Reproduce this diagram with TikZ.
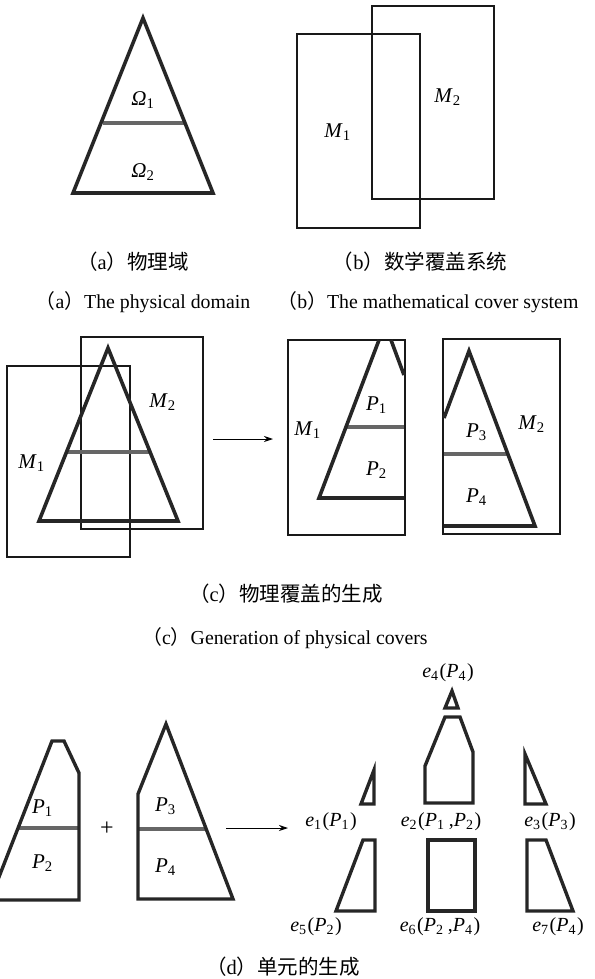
\documentclass[tikz,border=0pt]{standalone}
\usepackage{fontspec}
\setmainfont{Liberation Serif}
\newfontfamily\cjk{Noto Sans CJK SC}
\usetikzlibrary{arrows.meta}
\newcommand{\lbl}[2]{\textit{#1}\textsubscript{#2}\kern1pt}
\newcommand{\zlp}{{\cjk （}}
\newcommand{\zrp}{{\cjk ）}}

\begin{document}
\begin{tikzpicture}[x=1pt,y=-1pt,
  font=\fontsize{21}{24}\selectfont,
  tri/.style={draw=black!85,line width=3.6pt,line join=miter},
  cut/.style={draw=black!60,line width=3.4pt},
  cover/.style={draw=black!90,line width=2.2pt},
  elem/.style={draw=black!85,line width=3.4pt,line join=miter},
  arr/.style={-{Stealth[length=9pt,width=6pt]},line width=0.9pt},
  zh/.style={font=\fontsize{20.5}{24}\selectfont},
  en/.style={font=\fontsize{19.8}{24}\selectfont},
  lab/.style={inner sep=0pt},
  elab/.style={inner sep=0pt,font=\fontsize{20}{24}\selectfont}]
\clip (0,0) rectangle (594,979);

% (a) physical domain
\draw[cut] (103,123) -- (184,123);
\draw[tri] (143,18) -- (73,193) -- (213,193) -- cycle;
\node[lab] (om1) at (143,100) {\textit{Ω}\textsubscript{1}};
\node[lab] (om2) at (143,172) {\textit{Ω}\textsubscript{2}};

% (b) mathematical covers
\draw[cover] (297,34) rectangle (420,228);
\draw[cover] (372,6) rectangle (494,199);
\node[lab] (bm1) at (338,132) {\lbl{M}{1}};
\node[lab] (bm2) at (448,97) {\lbl{M}{2}};

\node[zh] (capa) at (133,262) {\zlp a\zrp{\cjk 物理域}};
\node[zh] (capb) at (420,262) {\zlp b\zrp{\cjk 数学覆盖系统}};
\node[en] (capaen) at (143,302) {\zlp a\zrp The physical domain};
\node[en] (capben) at (428,302) {\zlp b\zrp The mathematical cover system};

% (c) physical covers
\draw[cover] (7,366) rectangle (130,557);
\draw[cover] (81,337) rectangle (203,529);
\draw[cut] (68,452) -- (149,452);
\draw[tri] (108,348) -- (39,521) -- (178,521) -- cycle;
\node[lab] (cm1) at (32,463) {\lbl{M}{1}};
\node[lab] (cm2) at (163,402) {\lbl{M}{2}};
\coordinate (cfrom) at (213,439);
\coordinate (cto) at (273,439);
\draw[arr] (cfrom) -- (cto);

\draw[cover] (288,340) rectangle (405,535);
\draw[cut] (347,427) -- (404,427);
\draw[tri] (379,340) -- (319,498) -- (404,498);
\draw[tri] (391,340) -- (404,375);
\node[lab] (rm1) at (308,430) {\lbl{M}{1}};
\node[lab] (p1) at (377,405) {\lbl{P}{1}};
\node[lab] (p2) at (377,470) {\lbl{P}{2}};

\draw[cover] (443,339) rectangle (560,534);
\draw[cut] (444,454) -- (508,454);
\draw[tri] (444,418) -- (469,351) -- (535,526) -- (444,526);
\node[lab] (rm2) at (532,424) {\lbl{M}{2}};
\node[lab] (p3) at (477,432) {\lbl{P}{3}};
\node[lab] (p4) at (477,497) {\lbl{P}{4}};

\node[zh] (capc) at (286,594) {\zlp c\zrp{\cjk 物理覆盖的生成}};
\node[en] (capcen) at (285,638) {\zlp c\zrp Generation of physical covers};

% (d) elements
\draw[cut] (18,828) -- (79,828);
\draw[elem] (-10,900) -- (52,741) -- (64,741) -- (79,773) -- (79,900) -- cycle;
\node[lab] (dp1) at (43,808) {\lbl{P}{1}};
\node[lab] (dp2) at (43,863) {\lbl{P}{2}};
\node[lab,font=\fontsize{24}{24}\selectfont] (plus) at (107,829) {+};
\draw[cut] (138,829) -- (206,829);
\draw[elem] (166,724) -- (138,794) -- (138,899) -- (233,899) -- cycle;
\node[lab] (dp3) at (166,806) {\lbl{P}{3}};
\node[lab] (dp4) at (166,867) {\lbl{P}{4}};
\coordinate (dfrom) at (226,828);
\coordinate (dto) at (288,828);
\draw[arr] (dfrom) -- (dto);

\draw[elem] (452,691) -- (445,708) -- (458,708) -- cycle;
\draw[elem] (445,717) -- (460,717) -- (473,752) -- (473,803) -- (425,803) -- (425,766) -- cycle;
\draw[elem] (374,770) -- (374,804) -- (361,804) -- cycle;
\draw[elem] (525,754) -- (525,804) -- (546,804) -- cycle;
\draw[elem] (363,840) -- (375,840) -- (375,911) -- (336,911) -- cycle;
\draw[elem] (428,840) rectangle (475,911);
\draw[elem] (527,840) -- (546,840) -- (573,911) -- (527,911) -- cycle;
\node[elab] (e4) at (448,673) {\lbl{e}{4}(\lbl{P}{4})};
\node[elab] (e1) at (331,822) {\lbl{e}{1}(\lbl{P}{1})};
\node[elab] (e2) at (441,822) {\lbl{e}{2}(\lbl{P}{1}\,,\lbl{P}{2})};
\node[elab] (e3) at (550,822) {\lbl{e}{3}(\lbl{P}{3})};
\node[elab] (e5) at (316,927) {\lbl{e}{5}(\lbl{P}{2})};
\node[elab] (e6) at (440,927) {\lbl{e}{6}(\lbl{P}{2}\,,\lbl{P}{4})};
\node[elab] (e7) at (558,927) {\lbl{e}{7}(\lbl{P}{4})};

\node[zh] (capd) at (283,967) {\zlp d\zrp{\cjk 单元的生成}};
\end{tikzpicture}
\end{document}
